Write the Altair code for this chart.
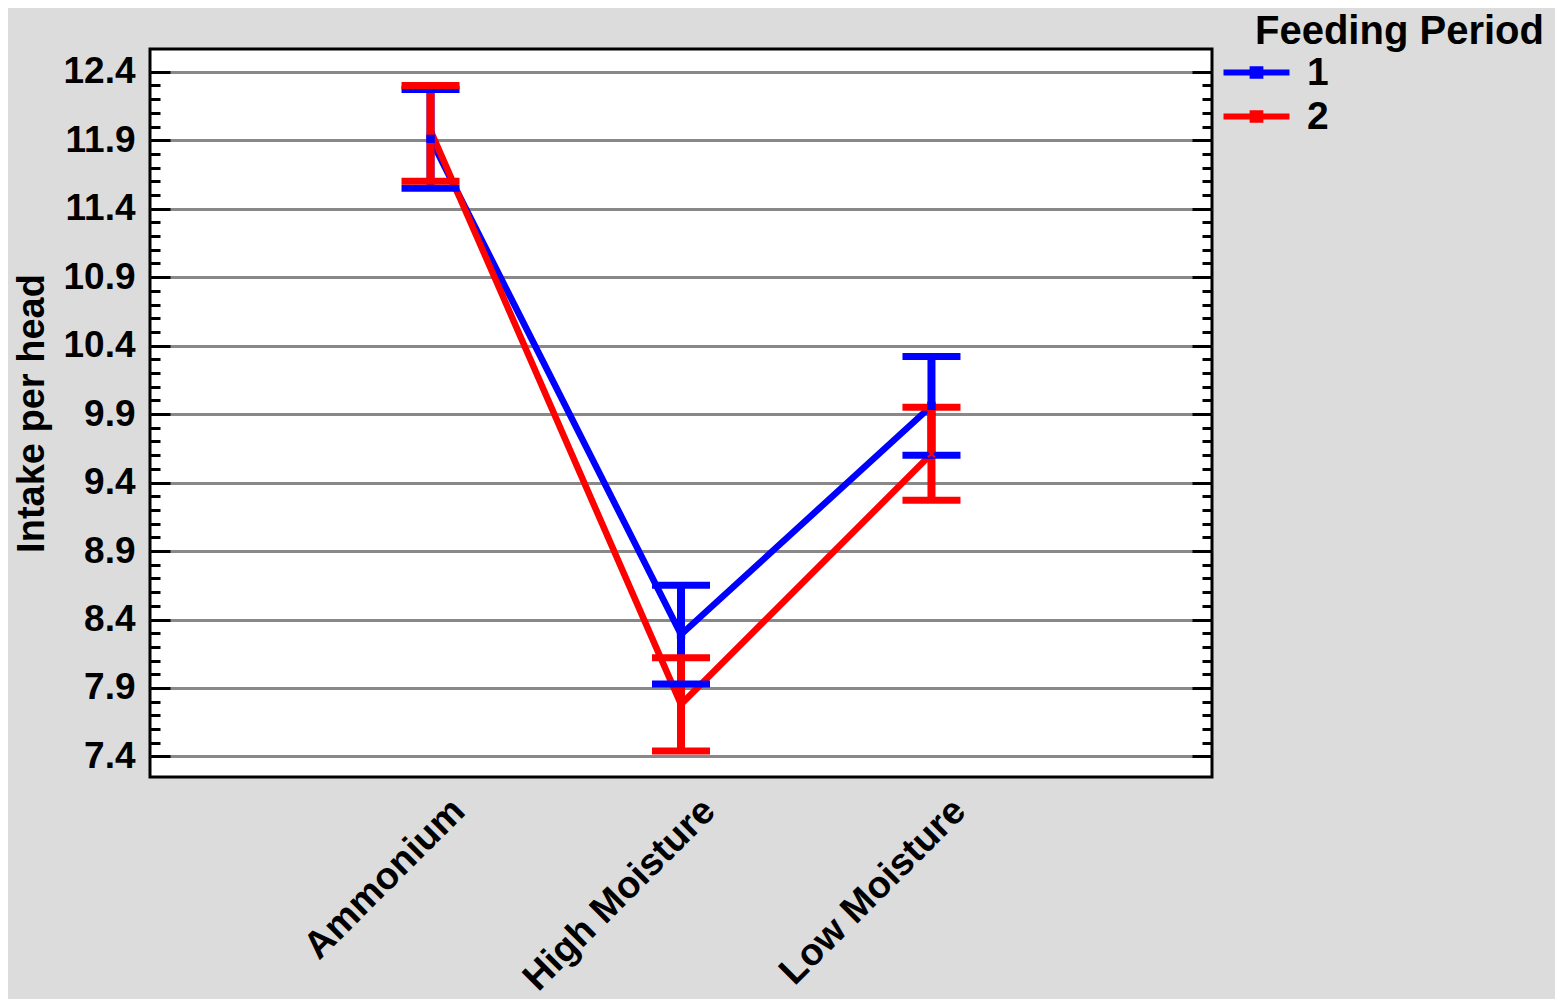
import altair as alt
import pandas as pd

categories = ["Ammonium", "High Moisture", "Low Moisture"]
periods = ["1", "2"]
mean_p1 = [11.91, 8.29, 9.96]
low_p1 = [11.55, 7.93, 9.60]
high_p1 = [12.27, 8.65, 10.32]
mean_p2 = [11.97, 7.78, 9.61]
low_p2 = [11.60, 7.44, 9.27]
high_p2 = [12.30, 8.12, 9.95]
major_ticks = [7.4, 7.9, 8.4, 8.9, 9.4, 9.9, 10.4, 10.9, 11.4, 11.9, 12.4]
minor_ticks = [round(7.4 + 0.1 * i, 1) for i in range(51)]
legend_title = "Feeding Period"

rows = []
for p, means, lows, highs in [("1", mean_p1, low_p1, high_p1), ("2", mean_p2, low_p2, high_p2)]:
    for i, (c, m, lo, hi) in enumerate(zip(categories, means, lows, highs)):
        rows.append({"feed": c, "idx": i + 1, "period": p, "mean": m, "low": lo, "high": hi})
df = pd.DataFrame(rows)

FONT = "Liberation Sans"
W, H = 1062, 728

label_expr = " : ".join(
    [f"datum.value == {i + 1} ? '{c}'" for i, c in enumerate(categories[:-1])] + [f"'{categories[-1]}'"]
)

x_enc = alt.X(
    "idx:Q",
    scale=alt.Scale(domain=[-0.12, 4.12], nice=False, zero=False),
    axis=alt.Axis(title=None, values=[1, 2, 3], labelExpr=label_expr, labelAngle=-45,
                  labelAlign="right", labelBaseline="middle", labelPadding=28, labelOffset=28,
                  ticks=False, domain=False, grid=False, labelFont=FONT, labelFontSize=38,
                  labelFontWeight="bold", labelColor="black", labelLimit=500,
                  labelOverlap=False, labelFlush=False),
)
y_scale = alt.Scale(domain=[7.25, 12.566], nice=False, zero=False)

legend = alt.Legend(title=None, orient="none", legendX=1084, legendY=1,
                    symbolType="M-1.7,0H1.7M-0.2,-0.17H0.2V0.17H-0.2Z", symbolSize=1506,
                    symbolStrokeWidth=6, labelFont=FONT, labelFontSize=39,
                    labelFontWeight="bold", labelColor="black", labelOffset=28,
                    rowPadding=1, padding=0)
color_enc = alt.Color("period:N", scale=alt.Scale(domain=periods, range=["#0000FF", "#FF0000"]),
                      legend=legend)


def tick_axis(orient, values, size):
    return alt.Axis(orient=orient, offset=-W, values=values, tickSize=size, tickWidth=3,
                    tickColor="black", labels=False, domain=False, grid=False, title=None,
                    zindex=1)


base = alt.Chart(df)

lines = base.mark_line(strokeWidth=6.5).encode(
    x=x_enc,
    y=alt.Y("mean:Q", scale=y_scale,
            axis=alt.Axis(title="Intake per head", values=major_ticks, format=".1f",
                          grid=True, gridColor="#888888", gridWidth=3, ticks=False,
                          domain=False, labelPadding=15, titlePadding=11,
                          labelFont=FONT, labelFontSize=37, labelFontWeight="bold",
                          labelColor="black", labelOverlap=False,
                          titleFont=FONT, titleFontSize=38, titleFontWeight="bold",
                          titleColor="black")),
    color=color_enc,
)

bars = base.mark_rule(strokeWidth=8).encode(
    x=x_enc,
    y=alt.Y("low:Q", scale=y_scale, axis=tick_axis("right", major_ticks, 20)),
    y2="high:Q",
    color=color_enc,
)

caps = base.transform_fold(["low", "high"], as_=["end", "val"]).mark_tick(
    orient="horizontal", size=58, thickness=7, opacity=1).encode(
    x=x_enc,
    y=alt.Y("val:Q", scale=y_scale, axis=tick_axis("right", minor_ticks, 10)),
    color=color_enc,
)

pts1 = base.transform_filter(alt.datum.period == "1").mark_point(
    shape="square", filled=True, size=70, opacity=1).encode(
    x=x_enc,
    y=alt.Y("mean:Q", scale=y_scale, axis=tick_axis("left", major_ticks, 20)),
    color=color_enc,
)

pts2 = base.transform_filter(alt.datum.period == "2").mark_point(
    shape="M-0.8,-0.5L-0.5,-0.8L0,-0.3L0.5,-0.8L0.8,-0.5L0.3,0L0.8,0.5L0.5,0.8L0,0.3L-0.5,0.8L-0.8,0.5L-0.3,0Z",
    filled=True, size=110, opacity=1).encode(
    x=x_enc,
    y=alt.Y("mean:Q", scale=y_scale, axis=tick_axis("left", minor_ticks, 10)),
    color=color_enc,
)

title_text = alt.Chart(pd.DataFrame({"t": [legend_title]})).mark_text(
    align="left", baseline="alphabetic", font=FONT, fontSize=40, fontWeight="bold",
    color="black").encode(text="t:N", x=alt.value(1105), y=alt.value(-5))

chart = alt.layer(lines, bars, caps, pts1, pts2, title_text).resolve_scale(y="shared").resolve_axis(
    y="independent"
).properties(
    width=W, height=H,
    autosize=alt.AutoSizeParams(type="none"),
    padding={"left": 142, "top": 41, "right": 343, "bottom": 222},
    background="#DCDCDC",
).configure_view(stroke="black", strokeWidth=3, fill="white")

chart.save("out.html", embed_options={"renderer": "svg", "actions": False})
